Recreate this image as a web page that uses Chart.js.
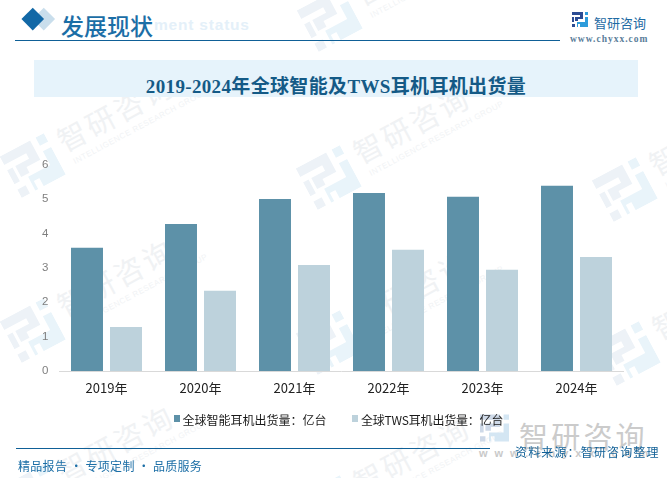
<!DOCTYPE html>
<html><head><meta charset="utf-8">
<script src="https://cdn.jsdelivr.net/npm/chart.js@4"></script>
<style>
html,body{margin:0;padding:0;background:#fff;width:667px;height:478px;overflow:hidden}
body{position:relative;font-family:"Noto Sans CJK SC",sans-serif}
.a{position:absolute;white-space:nowrap;line-height:1}
.tile{position:absolute;width:0;height:0;transform:rotate(-28deg)}
.wm{position:absolute;left:34px;top:-24px;color:#f0f2f4;font-size:29px;line-height:1;letter-spacing:3px;white-space:nowrap}
.wmen{position:absolute;left:38px;top:12px;color:#f1f3f5;font:8px/1 "Liberation Sans";letter-spacing:.55px;white-space:nowrap}
.lg{position:absolute;width:6px;height:7px;top:415px}
canvas{position:absolute;left:0;top:0}
</style></head><body>
<svg width="0" height="0" style="position:absolute"><defs>
<g id="lgA"><path d="M0 0h11v7H6v2H3V5h5V3H0z M0 5h2v5H0z M0 12h3v3H0z"/></g>
<g id="lgB"><path d="M13 0h3v3h-3z M13 5h3v7H6v3H5v-5h8z M8 12h8v3H8z"/></g>
</defs></svg>
<div id="wms"></div>
<div class="a" id="ghost" style="left:154px;top:16px;font:bold 15.5px 'Liberation Sans';color:#e4f0f9;letter-spacing:.8px"></div>
<div class="a" style="left:36px;top:11px;width:15.5px;height:15.5px;background:#c9deec;transform:rotate(45deg)"></div>
<div class="a" style="left:25px;top:11px;width:15.5px;height:15.5px;background:#1268a6;transform:rotate(45deg)"></div>
<div class="a" id="head" style="left:61px;top:8px;font:500 23px 'Noto Sans CJK SC';color:#1b6ea6"></div>
<div class="a" style="left:15px;top:40px;width:545px;height:1px;background:#0f6097"></div>
<svg class="a" style="left:572px;top:12px" width="16" height="15" viewBox="0 0 16 15"><use href="#lgA" fill="#2b4c94"/><use href="#lgB" fill="#2d9cdb"/></svg>
<div class="a" id="brand" style="left:594px;top:13px;font:13px 'Noto Sans CJK SC';color:#1e6aa3"></div>
<div class="a" id="site" style="left:570px;top:34px;font:bold 9.5px 'Liberation Serif';color:#5b7e9a;letter-spacing:1px"></div>
<div class="a" style="left:34px;top:60px;width:604px;height:37px;background:#e6f3fb"></div>
<div class="a" id="title" style="left:34px;width:604px;text-align:center;top:71px;font:bold 19px 'Liberation Serif','Noto Sans CJK SC';color:#145a86;letter-spacing:.35px"></div>
<div class="a" id="big" style="left:519px;top:414px;font:29px 'Noto Sans CJK SC';color:#cbcbcb;letter-spacing:3.2px"></div>
<svg class="a" style="left:480px;top:414px" width="29" height="28" viewBox="0 0 16 15"><use href="#lgA" fill="#ced9e8"/><use href="#lgB" fill="#d4e6f3"/></svg>
<div class="a" id="bigsite" style="left:479px;top:447px;font:bold 11px 'Liberation Sans';color:#c9c9c9;letter-spacing:7px"></div>
<canvas id="c" width="667" height="478" style="width:667px;height:478px"></canvas>
<div class="lg" id="m0" style="left:174px"></div>
<div class="a" id="l0" style="left:182.5px;top:411px;font:12px 'Noto Sans CJK SC';color:#1a1a1a"></div>
<div class="lg" id="m1" style="left:352px"></div>
<div class="a" id="l1" style="left:361px;top:411px;font:12px 'Noto Sans CJK SC';color:#1a1a1a;letter-spacing:-.2px"></div>
<div class="a" style="left:16px;top:448px;width:474px;height:1px;background:#0f6097"></div>
<div class="a" id="foot" style="left:18px;top:457px;font:12px 'Noto Sans CJK SC';color:#1b6ea6;letter-spacing:.3px"></div>
<div class="a" id="src" style="left:515px;top:443px;font:12px 'Noto Sans CJK SC';color:#0f5f96;letter-spacing:1.15px"></div>
<script>
const categories=['2019年','2020年','2021年','2022年','2023年','2024年'];
const smartValues=[3.58,4.27,5.00,5.17,5.06,5.38];
const twsValues=[1.28,2.33,3.08,3.52,2.94,3.31];
const yTicks=[0,1,2,3,4,5,6];
const seriesNames=['全球智能耳机出货量：亿台','全球TWS耳机出货量：亿台'];
const seriesColors=['#5d91a8','#bdd2dc'];
const chartTitle='2019-2024年全球智能及TWS耳机耳机出货量';
const $=id=>document.getElementById(id);
const set=(id,t)=>$(id).textContent=t;
set('head','发展现状');set('ghost','ment status');set('brand','智研咨询');set('site','www.chyxx.com');set('title',chartTitle);
set('big','智研咨询');set('bigsite','www.chyxx.com');set('foot','精品报告 · 专项定制 · 品质服务');set('src','资料来源：智研咨询整理');
set('l0',seriesNames[0]);set('l1',seriesNames[1]);
$('m0').style.background=seriesColors[0];$('m1').style.background=seriesColors[1];
const tilePos=[[330,20],[33,166],[329,178],[625,190],[33,331],[329,343],[628,354],[33,497],[329,508]];
tilePos.forEach(p=>{
 const t=document.createElement('div');t.className='tile';t.style.left=p[0]+'px';t.style.top=p[1]+'px';
 t.innerHTML='<svg style="position:absolute;left:-25px;top:-24px" width="50" height="47" viewBox="0 0 16 15"><use href="#lgA" fill="#edf2f7"/><use href="#lgB" fill="#e9f4fa"/></svg><div class="wm">智研咨询</div><div class="wmen">INTELLIGENCE RESEARCH GROUP</div>';
 $('wms').appendChild(t);
});
new Chart($('c'),{
 type:'bar',
 data:{labels:categories,datasets:[
  {label:seriesNames[0],data:smartValues,backgroundColor:seriesColors[0],barPercentage:.82,categoryPercentage:.83},
  {label:seriesNames[1],data:twsValues,backgroundColor:seriesColors[1],barPercentage:.82,categoryPercentage:.83}]},
 options:{responsive:false,animation:false,devicePixelRatio:1,
  layout:{padding:{left:0,right:43.5,top:164.5,bottom:0}},
  plugins:{tooltip:{enabled:false},legend:{display:false}},
  scales:{
   x:{afterFit:a=>{a.height=107},grid:{display:false,drawTicks:false},border:{color:'#d9d9d9'},ticks:{color:'#222',font:{size:13,family:'"Noto Sans CJK SC","Liberation Sans"'},padding:9}},
   y:{min:0,max:6,afterFit:a=>{a.width=59.5},afterBuildTicks:a=>{a.ticks=yTicks.map(v=>({value:v}))},grid:{display:false,drawTicks:false},border:{display:false},ticks:{color:'#7f7f7f',font:{size:11.5,family:'"Liberation Sans"'},padding:11}}
  }}
});
</script>
</body></html>
